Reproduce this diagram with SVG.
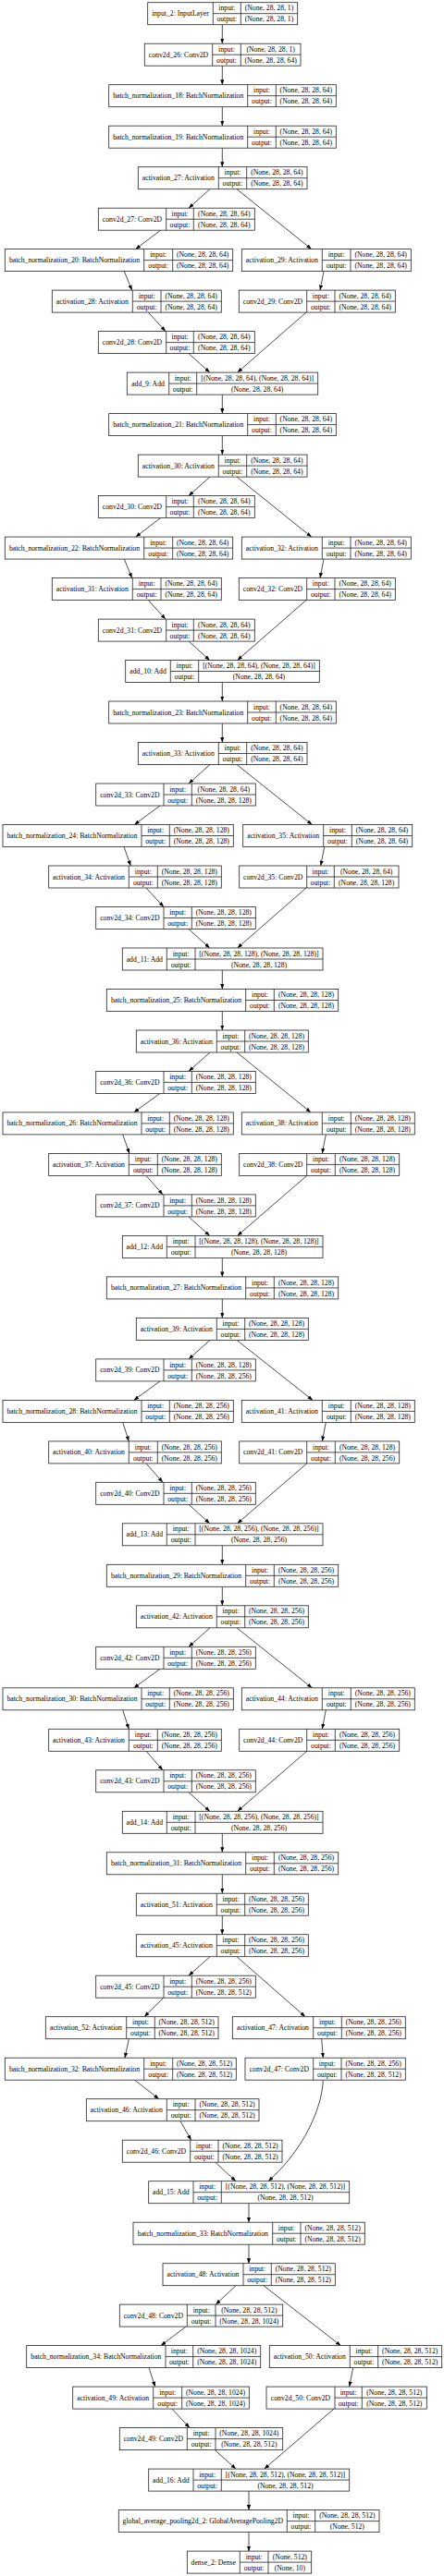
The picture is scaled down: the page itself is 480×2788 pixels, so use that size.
<svg xmlns="http://www.w3.org/2000/svg" width="480" height="2788" viewBox="0 0 480 2788">
<style>
.n rect{fill:#fff;stroke:#222;stroke-width:0.8}
.n path{fill:none;stroke:#222;stroke-width:0.8}
text{font-family:"Liberation Serif","Times New Roman",serif;font-size:7.7px;text-anchor:middle;fill:#000}
.e path{fill:none;stroke:#000;stroke-width:0.7;marker-end:url(#ah)}
</style>
<defs>
<marker id="ah" viewBox="0 0 10 10" refX="10" refY="5" markerUnits="userSpaceOnUse" markerWidth="5.5" markerHeight="4.2" orient="auto" preserveAspectRatio="none"><path d="M0 0L10 5L0 10z" fill="#000"/></marker>
</defs>
<rect width="480" height="2788" fill="#fff"/>
<g id="connectors" class="e">
<path d="M240.3 26.7V47.2"/><path d="M240.3 71.2V91.7"/><path d="M240.3 115.7V136.2"/><path d="M240.3 160.2V180.7"/>
<path d="M240.3 427.1V447.6"/><path d="M240.3 471.6V492.1"/><path d="M240.3 738.5V759"/><path d="M240.3 783V803.5"/>
<path d="M240.3 1050V1070.5"/><path d="M240.3 1094.5V1115"/><path d="M240.3 1361.4V1381.9"/><path d="M240.3 1405.9V1426.4"/>
<path d="M240.3 1672.8V1693.3"/><path d="M240.3 1717.3V1737.8"/><path d="M240.3 1984.3V2004.8"/><path d="M240.3 2028.8V2049.2"/><path d="M240.3 2073.2V2093.7"/>
<path d="M269 2384.7V2405.2"/><path d="M269 2429.2V2449.7"/><path d="M269 2696.1V2716.6"/><path d="M269 2740.6V2761.1"/>
<path d="M227 204.7L204 225.2"/><path d="M256 204.7L336.7 269.6"/><path d="M173.5 249.2L146.7 269.6"/><path d="M134.3 293.6L142.7 314.1"/><path d="M350 293.6L346 314.1"/><path d="M160.3 338.1L179 358.6"/><path d="M204 382.6L226.7 403.1"/><path d="M331 338.1L256.7 403.1"/>
<path d="M227 516.1L204 536.6"/><path d="M256 516.1L336.7 581.1"/><path d="M173.5 560.6L146.7 581.1"/><path d="M134.3 605.1L142.7 625.6"/><path d="M350 605.1L346 625.6"/><path d="M160.3 649.6L179 670.1"/><path d="M204 694.1L226.7 714.5"/><path d="M331 649.6L256.7 714.5"/>
<path d="M227 827.5L204 848"/><path d="M256 827.5L337.3 892.5"/><path d="M173 872L145.3 892.5"/><path d="M134 916.5L141.3 937"/><path d="M350.7 916.5L346.7 937"/><path d="M158 961L177 981.5"/><path d="M204 1005.5L226.7 1026"/><path d="M331 961L256.7 1026"/>
<path d="M227 1139L204 1159.4"/><path d="M256 1139L336 1203.9"/><path d="M173 1183.4L144.7 1203.9"/><path d="M132.7 1227.9L140 1248.4"/><path d="M352.3 1227.9L348.3 1248.4"/><path d="M158 1272.4L176 1292.9"/><path d="M204 1316.9L226.7 1337.4"/><path d="M331.7 1272.4L256.7 1337.4"/>
<path d="M227 1450.4L204 1470.9"/><path d="M256 1450.4L338 1515.4"/><path d="M173 1494.9L144.7 1515.4"/><path d="M132.7 1539.4L139.3 1559.9"/><path d="M352.3 1539.4L348.3 1559.9"/><path d="M158 1583.9L176 1604.3"/><path d="M204 1628.3L226.7 1648.8"/><path d="M331.7 1583.9L256.7 1648.8"/>
<path d="M227 1761.8L204 1782.3"/><path d="M256 1761.8L337.3 1826.8"/><path d="M173 1806.3L144.7 1826.8"/><path d="M132.7 1850.8L139.3 1871.3"/><path d="M352.3 1850.8L348.3 1871.3"/><path d="M158 1895.3L176 1915.8"/><path d="M204 1939.8L226.7 1960.3"/><path d="M331.7 1895.3L256.7 1960.3"/>
<path d="M227 2117.7L204 2138.2"/><path d="M256 2117.7L330 2182.7"/><path d="M176.7 2162.2L156 2182.7"/><path d="M139.3 2206.7L135 2227.2"/><path d="M347.7 2206.7L349.3 2227.2"/><path d="M145.7 2251.2L171.7 2271.7"/><path d="M195 2295.7L206.7 2316.2"/><path d="M232.7 2340.2L255 2360.7"/><path d="M349.3 2251.2C348 2285 325 2330 290 2360.7"/>
<path d="M255 2473.7L233.3 2494.1"/><path d="M285 2473.7L368.3 2538.6"/><path d="M201 2518.1L174 2538.6"/><path d="M161 2562.6L167.7 2583.1"/><path d="M381.7 2562.6L377.7 2583.1"/><path d="M186 2607.1L205 2627.6"/><path d="M232.3 2651.6L255 2672.1"/><path d="M361 2607.1L285.7 2672.1"/>
</g>
<g id="input_2" class="n" transform="translate(0,2.7)"><rect x="159.7" y="0" width="162" height="24"/><path d="M230.3 0V24M260.3 0V24M230.3 12H321.7"/><text x="195" y="14.6">input_2: InputLayer</text><text x="245.3" y="8.7">input:</text><text x="245.3" y="20.7">output:</text><text x="291" y="8.7">(None, 28, 28, 1)</text><text x="291" y="20.7">(None, 28, 28, 1)</text></g>
<g id="conv2d_26" class="n" transform="translate(0,47.2)"><rect x="156.3" y="0" width="168.7" height="24"/><path d="M229.7 0V24M260.3 0V24M229.7 12H325"/><text x="193" y="14.6">conv2d_26: Conv2D</text><text x="245" y="8.7">input:</text><text x="245" y="20.7">output:</text><text x="292.65" y="8.7">(None, 28, 28, 1)</text><text x="292.65" y="20.7">(None, 28, 28, 64)</text></g>
<g id="batch_normalization_18" class="n" transform="translate(0,91.7)"><rect x="117.7" y="0" width="245.6" height="24"/><path d="M267.7 0V24M298.3 0V24M267.7 12H363.3"/><text x="192.7" y="14.6">batch_normalization_18: BatchNormalization</text><text x="283" y="8.7">input:</text><text x="283" y="20.7">output:</text><text x="330.8" y="8.7">(None, 28, 28, 64)</text><text x="330.8" y="20.7">(None, 28, 28, 64)</text></g>
<g id="batch_normalization_19" class="n" transform="translate(0,136.2)"><rect x="117.7" y="0" width="245.6" height="24"/><path d="M267.7 0V24M298.3 0V24M267.7 12H363.3"/><text x="192.7" y="14.6">batch_normalization_19: BatchNormalization</text><text x="283" y="8.7">input:</text><text x="283" y="20.7">output:</text><text x="330.8" y="8.7">(None, 28, 28, 64)</text><text x="330.8" y="20.7">(None, 28, 28, 64)</text></g>
<g id="activation_27" class="n" transform="translate(0,180.7)"><rect x="149.3" y="0" width="182.7" height="24"/><path d="M236.3 0V24M266.7 0V24M236.3 12H332"/><text x="192.8" y="14.6">activation_27: Activation</text><text x="251.5" y="8.7">input:</text><text x="251.5" y="20.7">output:</text><text x="299.35" y="8.7">(None, 28, 28, 64)</text><text x="299.35" y="20.7">(None, 28, 28, 64)</text></g>
<g id="conv2d_27" class="n" transform="translate(0,225.2)"><rect x="106.3" y="0" width="169" height="24"/><path d="M179.7 0V24M209.3 0V24M179.7 12H275.3"/><text x="143" y="14.6">conv2d_27: Conv2D</text><text x="194.5" y="8.7">input:</text><text x="194.5" y="20.7">output:</text><text x="242.3" y="8.7">(None, 28, 28, 64)</text><text x="242.3" y="20.7">(None, 28, 28, 64)</text></g>
<g id="batch_normalization_20" class="n" transform="translate(0,269.6)"><rect x="5.3" y="0" width="246.4" height="24"/><path d="M155.7 0V24M186.7 0V24M155.7 12H251.7"/><text x="80.5" y="14.6">batch_normalization_20: BatchNormalization</text><text x="171.2" y="8.7">input:</text><text x="171.2" y="20.7">output:</text><text x="219.2" y="8.7">(None, 28, 28, 64)</text><text x="219.2" y="20.7">(None, 28, 28, 64)</text></g>
<g id="activation_29" class="n" transform="translate(0,269.6)"><rect x="261.3" y="0" width="183" height="24"/><path d="M348.3 0V24M379 0V24M348.3 12H444.3"/><text x="304.8" y="14.6">activation_29: Activation</text><text x="363.65" y="8.7">input:</text><text x="363.65" y="20.7">output:</text><text x="411.65" y="8.7">(None, 28, 28, 64)</text><text x="411.65" y="20.7">(None, 28, 28, 64)</text></g>
<g id="activation_28" class="n" transform="translate(0,314.1)"><rect x="56.3" y="0" width="183" height="24"/><path d="M143.3 0V24M174 0V24M143.3 12H239.3"/><text x="99.8" y="14.6">activation_28: Activation</text><text x="158.65" y="8.7">input:</text><text x="158.65" y="20.7">output:</text><text x="206.65" y="8.7">(None, 28, 28, 64)</text><text x="206.65" y="20.7">(None, 28, 28, 64)</text></g>
<g id="conv2d_29" class="n" transform="translate(0,314.1)"><rect x="258.3" y="0" width="169" height="24"/><path d="M331.7 0V24M362 0V24M331.7 12H427.3"/><text x="295" y="14.6">conv2d_29: Conv2D</text><text x="346.85" y="8.7">input:</text><text x="346.85" y="20.7">output:</text><text x="394.65" y="8.7">(None, 28, 28, 64)</text><text x="394.65" y="20.7">(None, 28, 28, 64)</text></g>
<g id="conv2d_28" class="n" transform="translate(0,358.6)"><rect x="106.3" y="0" width="169" height="24"/><path d="M179.7 0V24M209.3 0V24M179.7 12H275.3"/><text x="143" y="14.6">conv2d_28: Conv2D</text><text x="194.5" y="8.7">input:</text><text x="194.5" y="20.7">output:</text><text x="242.3" y="8.7">(None, 28, 28, 64)</text><text x="242.3" y="20.7">(None, 28, 28, 64)</text></g>
<g id="add_9" class="n" transform="translate(0,403.1)"><rect x="137.3" y="0" width="206.4" height="24"/><path d="M182.7 0V24M212.7 0V24M182.7 12H343.7"/><text x="160" y="14.6">add_9: Add</text><text x="197.7" y="8.7">input:</text><text x="197.7" y="20.7">output:</text><text x="278.2" y="8.7">[(None, 28, 28, 64), (None, 28, 28, 64)]</text><text x="278.2" y="20.7">(None, 28, 28, 64)</text></g>
<g id="batch_normalization_21" class="n" transform="translate(0,447.6)"><rect x="117.7" y="0" width="245.6" height="24"/><path d="M267.7 0V24M298.3 0V24M267.7 12H363.3"/><text x="192.7" y="14.6">batch_normalization_21: BatchNormalization</text><text x="283" y="8.7">input:</text><text x="283" y="20.7">output:</text><text x="330.8" y="8.7">(None, 28, 28, 64)</text><text x="330.8" y="20.7">(None, 28, 28, 64)</text></g>
<g id="activation_30" class="n" transform="translate(0,492.1)"><rect x="149.3" y="0" width="182.7" height="24"/><path d="M236.3 0V24M266.7 0V24M236.3 12H332"/><text x="192.8" y="14.6">activation_30: Activation</text><text x="251.5" y="8.7">input:</text><text x="251.5" y="20.7">output:</text><text x="299.35" y="8.7">(None, 28, 28, 64)</text><text x="299.35" y="20.7">(None, 28, 28, 64)</text></g>
<g id="conv2d_30" class="n" transform="translate(0,536.6)"><rect x="106.3" y="0" width="169" height="24"/><path d="M179.7 0V24M209.3 0V24M179.7 12H275.3"/><text x="143" y="14.6">conv2d_30: Conv2D</text><text x="194.5" y="8.7">input:</text><text x="194.5" y="20.7">output:</text><text x="242.3" y="8.7">(None, 28, 28, 64)</text><text x="242.3" y="20.7">(None, 28, 28, 64)</text></g>
<g id="batch_normalization_22" class="n" transform="translate(0,581.1)"><rect x="5.3" y="0" width="246.4" height="24"/><path d="M155.7 0V24M186.7 0V24M155.7 12H251.7"/><text x="80.5" y="14.6">batch_normalization_22: BatchNormalization</text><text x="171.2" y="8.7">input:</text><text x="171.2" y="20.7">output:</text><text x="219.2" y="8.7">(None, 28, 28, 64)</text><text x="219.2" y="20.7">(None, 28, 28, 64)</text></g>
<g id="activation_32" class="n" transform="translate(0,581.1)"><rect x="261.3" y="0" width="183" height="24"/><path d="M348.3 0V24M379 0V24M348.3 12H444.3"/><text x="304.8" y="14.6">activation_32: Activation</text><text x="363.65" y="8.7">input:</text><text x="363.65" y="20.7">output:</text><text x="411.65" y="8.7">(None, 28, 28, 64)</text><text x="411.65" y="20.7">(None, 28, 28, 64)</text></g>
<g id="activation_31" class="n" transform="translate(0,625.6)"><rect x="56.3" y="0" width="183" height="24"/><path d="M143.3 0V24M174 0V24M143.3 12H239.3"/><text x="99.8" y="14.6">activation_31: Activation</text><text x="158.65" y="8.7">input:</text><text x="158.65" y="20.7">output:</text><text x="206.65" y="8.7">(None, 28, 28, 64)</text><text x="206.65" y="20.7">(None, 28, 28, 64)</text></g>
<g id="conv2d_32" class="n" transform="translate(0,625.6)"><rect x="258.3" y="0" width="169" height="24"/><path d="M331.7 0V24M362 0V24M331.7 12H427.3"/><text x="295" y="14.6">conv2d_32: Conv2D</text><text x="346.85" y="8.7">input:</text><text x="346.85" y="20.7">output:</text><text x="394.65" y="8.7">(None, 28, 28, 64)</text><text x="394.65" y="20.7">(None, 28, 28, 64)</text></g>
<g id="conv2d_31" class="n" transform="translate(0,670.1)"><rect x="106.3" y="0" width="169" height="24"/><path d="M179.7 0V24M209.3 0V24M179.7 12H275.3"/><text x="143" y="14.6">conv2d_31: Conv2D</text><text x="194.5" y="8.7">input:</text><text x="194.5" y="20.7">output:</text><text x="242.3" y="8.7">(None, 28, 28, 64)</text><text x="242.3" y="20.7">(None, 28, 28, 64)</text></g>
<g id="add_10" class="n" transform="translate(0,714.5)"><rect x="135.7" y="0" width="209.6" height="24"/><path d="M184.3 0V24M214.7 0V24M184.3 12H345.3"/><text x="160" y="14.6">add_10: Add</text><text x="199.5" y="8.7">input:</text><text x="199.5" y="20.7">output:</text><text x="280" y="8.7">[(None, 28, 28, 64), (None, 28, 28, 64)]</text><text x="280" y="20.7">(None, 28, 28, 64)</text></g>
<g id="batch_normalization_23" class="n" transform="translate(0,759)"><rect x="117.7" y="0" width="245.6" height="24"/><path d="M267.7 0V24M298.3 0V24M267.7 12H363.3"/><text x="192.7" y="14.6">batch_normalization_23: BatchNormalization</text><text x="283" y="8.7">input:</text><text x="283" y="20.7">output:</text><text x="330.8" y="8.7">(None, 28, 28, 64)</text><text x="330.8" y="20.7">(None, 28, 28, 64)</text></g>
<g id="activation_33" class="n" transform="translate(0,803.5)"><rect x="149.3" y="0" width="182.7" height="24"/><path d="M236.3 0V24M266.7 0V24M236.3 12H332"/><text x="192.8" y="14.6">activation_33: Activation</text><text x="251.5" y="8.7">input:</text><text x="251.5" y="20.7">output:</text><text x="299.35" y="8.7">(None, 28, 28, 64)</text><text x="299.35" y="20.7">(None, 28, 28, 64)</text></g>
<g id="conv2d_33" class="n" transform="translate(0,848)"><rect x="103.7" y="0" width="172.6" height="24"/><path d="M177 0V24M207.3 0V24M177 12H276.3"/><text x="140.35" y="14.6">conv2d_33: Conv2D</text><text x="192.15" y="8.7">input:</text><text x="192.15" y="20.7">output:</text><text x="241.8" y="8.7">(None, 28, 28, 64)</text><text x="241.8" y="20.7">(None, 28, 28, 128)</text></g>
<g id="batch_normalization_24" class="n" transform="translate(0,892.5)"><rect x="3" y="0" width="249.3" height="24"/><path d="M153 0V24M183.3 0V24M153 12H252.3"/><text x="78" y="14.6">batch_normalization_24: BatchNormalization</text><text x="168.15" y="8.7">input:</text><text x="168.15" y="20.7">output:</text><text x="217.8" y="8.7">(None, 28, 28, 128)</text><text x="217.8" y="20.7">(None, 28, 28, 128)</text></g>
<g id="activation_35" class="n" transform="translate(0,892.5)"><rect x="262.7" y="0" width="183" height="24"/><path d="M349.7 0V24M380.3 0V24M349.7 12H445.7"/><text x="306.2" y="14.6">activation_35: Activation</text><text x="365" y="8.7">input:</text><text x="365" y="20.7">output:</text><text x="413" y="8.7">(None, 28, 28, 64)</text><text x="413" y="20.7">(None, 28, 28, 64)</text></g>
<g id="activation_34" class="n" transform="translate(0,937)"><rect x="52.7" y="0" width="186.6" height="24"/><path d="M139.3 0V24M170.3 0V24M139.3 12H239.3"/><text x="96" y="14.6">activation_34: Activation</text><text x="154.8" y="8.7">input:</text><text x="154.8" y="20.7">output:</text><text x="204.8" y="8.7">(None, 28, 28, 128)</text><text x="204.8" y="20.7">(None, 28, 28, 128)</text></g>
<g id="conv2d_35" class="n" transform="translate(0,937)"><rect x="258.7" y="0" width="172.3" height="24"/><path d="M331.7 0V24M361.3 0V24M331.7 12H431"/><text x="295.2" y="14.6">conv2d_35: Conv2D</text><text x="346.5" y="8.7">input:</text><text x="346.5" y="20.7">output:</text><text x="396.15" y="8.7">(None, 28, 28, 64)</text><text x="396.15" y="20.7">(None, 28, 28, 128)</text></g>
<g id="conv2d_34" class="n" transform="translate(0,981.5)"><rect x="103.7" y="0" width="172.6" height="24"/><path d="M177 0V24M207.3 0V24M177 12H276.3"/><text x="140.35" y="14.6">conv2d_34: Conv2D</text><text x="192.15" y="8.7">input:</text><text x="192.15" y="20.7">output:</text><text x="241.8" y="8.7">(None, 28, 28, 128)</text><text x="241.8" y="20.7">(None, 28, 28, 128)</text></g>
<g id="add_11" class="n" transform="translate(0,1026)"><rect x="132.3" y="0" width="216.7" height="24"/><path d="M180.3 0V24M211 0V24M180.3 12H349"/><text x="156.3" y="14.6">add_11: Add</text><text x="195.65" y="8.7">input:</text><text x="195.65" y="20.7">output:</text><text x="280" y="8.7">[(None, 28, 28, 128), (None, 28, 28, 128)]</text><text x="280" y="20.7">(None, 28, 28, 128)</text></g>
<g id="batch_normalization_25" class="n" transform="translate(0,1070.5)"><rect x="115.3" y="0" width="250.4" height="24"/><path d="M265.7 0V24M296.3 0V24M265.7 12H365.7"/><text x="190.5" y="14.6">batch_normalization_25: BatchNormalization</text><text x="281" y="8.7">input:</text><text x="281" y="20.7">output:</text><text x="331" y="8.7">(None, 28, 28, 128)</text><text x="331" y="20.7">(None, 28, 28, 128)</text></g>
<g id="activation_36" class="n" transform="translate(0,1115)"><rect x="147.3" y="0" width="186" height="24"/><path d="M234.3 0V24M264.7 0V24M234.3 12H333.3"/><text x="190.8" y="14.6">activation_36: Activation</text><text x="249.5" y="8.7">input:</text><text x="249.5" y="20.7">output:</text><text x="299" y="8.7">(None, 28, 28, 128)</text><text x="299" y="20.7">(None, 28, 28, 128)</text></g>
<g id="conv2d_36" class="n" transform="translate(0,1159.4)"><rect x="103.7" y="0" width="172.6" height="24"/><path d="M177 0V24M207.3 0V24M177 12H276.3"/><text x="140.35" y="14.6">conv2d_36: Conv2D</text><text x="192.15" y="8.7">input:</text><text x="192.15" y="20.7">output:</text><text x="241.8" y="8.7">(None, 28, 28, 128)</text><text x="241.8" y="20.7">(None, 28, 28, 128)</text></g>
<g id="batch_normalization_26" class="n" transform="translate(0,1203.9)"><rect x="3" y="0" width="249.3" height="24"/><path d="M153 0V24M183.3 0V24M153 12H252.3"/><text x="78" y="14.6">batch_normalization_26: BatchNormalization</text><text x="168.15" y="8.7">input:</text><text x="168.15" y="20.7">output:</text><text x="217.8" y="8.7">(None, 28, 28, 128)</text><text x="217.8" y="20.7">(None, 28, 28, 128)</text></g>
<g id="activation_38" class="n" transform="translate(0,1203.9)"><rect x="261.3" y="0" width="187" height="24"/><path d="M348.3 0V24M379.3 0V24M348.3 12H448.3"/><text x="304.8" y="14.6">activation_38: Activation</text><text x="363.8" y="8.7">input:</text><text x="363.8" y="20.7">output:</text><text x="413.8" y="8.7">(None, 28, 28, 128)</text><text x="413.8" y="20.7">(None, 28, 28, 128)</text></g>
<g id="activation_37" class="n" transform="translate(0,1248.4)"><rect x="52.7" y="0" width="186.6" height="24"/><path d="M139.3 0V24M170.3 0V24M139.3 12H239.3"/><text x="96" y="14.6">activation_37: Activation</text><text x="154.8" y="8.7">input:</text><text x="154.8" y="20.7">output:</text><text x="204.8" y="8.7">(None, 28, 28, 128)</text><text x="204.8" y="20.7">(None, 28, 28, 128)</text></g>
<g id="conv2d_38" class="n" transform="translate(0,1248.4)"><rect x="258.7" y="0" width="173" height="24"/><path d="M331.7 0V24M362.3 0V24M331.7 12H431.7"/><text x="295.2" y="14.6">conv2d_38: Conv2D</text><text x="347" y="8.7">input:</text><text x="347" y="20.7">output:</text><text x="397" y="8.7">(None, 28, 28, 128)</text><text x="397" y="20.7">(None, 28, 28, 128)</text></g>
<g id="conv2d_37" class="n" transform="translate(0,1292.9)"><rect x="103.7" y="0" width="172.6" height="24"/><path d="M177 0V24M207.3 0V24M177 12H276.3"/><text x="140.35" y="14.6">conv2d_37: Conv2D</text><text x="192.15" y="8.7">input:</text><text x="192.15" y="20.7">output:</text><text x="241.8" y="8.7">(None, 28, 28, 128)</text><text x="241.8" y="20.7">(None, 28, 28, 128)</text></g>
<g id="add_12" class="n" transform="translate(0,1337.4)"><rect x="132.3" y="0" width="216.7" height="24"/><path d="M180.3 0V24M211 0V24M180.3 12H349"/><text x="156.3" y="14.6">add_12: Add</text><text x="195.65" y="8.7">input:</text><text x="195.65" y="20.7">output:</text><text x="280" y="8.7">[(None, 28, 28, 128), (None, 28, 28, 128)]</text><text x="280" y="20.7">(None, 28, 28, 128)</text></g>
<g id="batch_normalization_27" class="n" transform="translate(0,1381.9)"><rect x="115.3" y="0" width="250.4" height="24"/><path d="M265.7 0V24M296.3 0V24M265.7 12H365.7"/><text x="190.5" y="14.6">batch_normalization_27: BatchNormalization</text><text x="281" y="8.7">input:</text><text x="281" y="20.7">output:</text><text x="331" y="8.7">(None, 28, 28, 128)</text><text x="331" y="20.7">(None, 28, 28, 128)</text></g>
<g id="activation_39" class="n" transform="translate(0,1426.4)"><rect x="147.3" y="0" width="186" height="24"/><path d="M234.3 0V24M264.7 0V24M234.3 12H333.3"/><text x="190.8" y="14.6">activation_39: Activation</text><text x="249.5" y="8.7">input:</text><text x="249.5" y="20.7">output:</text><text x="299" y="8.7">(None, 28, 28, 128)</text><text x="299" y="20.7">(None, 28, 28, 128)</text></g>
<g id="conv2d_39" class="n" transform="translate(0,1470.9)"><rect x="103.7" y="0" width="172.6" height="24"/><path d="M177 0V24M207.3 0V24M177 12H276.3"/><text x="140.35" y="14.6">conv2d_39: Conv2D</text><text x="192.15" y="8.7">input:</text><text x="192.15" y="20.7">output:</text><text x="241.8" y="8.7">(None, 28, 28, 128)</text><text x="241.8" y="20.7">(None, 28, 28, 256)</text></g>
<g id="batch_normalization_28" class="n" transform="translate(0,1515.4)"><rect x="3" y="0" width="249.3" height="24"/><path d="M153 0V24M183.3 0V24M153 12H252.3"/><text x="78" y="14.6">batch_normalization_28: BatchNormalization</text><text x="168.15" y="8.7">input:</text><text x="168.15" y="20.7">output:</text><text x="217.8" y="8.7">(None, 28, 28, 256)</text><text x="217.8" y="20.7">(None, 28, 28, 256)</text></g>
<g id="activation_41" class="n" transform="translate(0,1515.4)"><rect x="261.3" y="0" width="187" height="24"/><path d="M348.3 0V24M379.3 0V24M348.3 12H448.3"/><text x="304.8" y="14.6">activation_41: Activation</text><text x="363.8" y="8.7">input:</text><text x="363.8" y="20.7">output:</text><text x="413.8" y="8.7">(None, 28, 28, 128)</text><text x="413.8" y="20.7">(None, 28, 28, 128)</text></g>
<g id="activation_40" class="n" transform="translate(0,1559.9)"><rect x="52.7" y="0" width="186.6" height="24"/><path d="M139.3 0V24M170.3 0V24M139.3 12H239.3"/><text x="96" y="14.6">activation_40: Activation</text><text x="154.8" y="8.7">input:</text><text x="154.8" y="20.7">output:</text><text x="204.8" y="8.7">(None, 28, 28, 256)</text><text x="204.8" y="20.7">(None, 28, 28, 256)</text></g>
<g id="conv2d_41" class="n" transform="translate(0,1559.9)"><rect x="258.7" y="0" width="173" height="24"/><path d="M331.7 0V24M362.3 0V24M331.7 12H431.7"/><text x="295.2" y="14.6">conv2d_41: Conv2D</text><text x="347" y="8.7">input:</text><text x="347" y="20.7">output:</text><text x="397" y="8.7">(None, 28, 28, 128)</text><text x="397" y="20.7">(None, 28, 28, 256)</text></g>
<g id="conv2d_40" class="n" transform="translate(0,1604.3)"><rect x="103.7" y="0" width="172.6" height="24"/><path d="M177 0V24M207.3 0V24M177 12H276.3"/><text x="140.35" y="14.6">conv2d_40: Conv2D</text><text x="192.15" y="8.7">input:</text><text x="192.15" y="20.7">output:</text><text x="241.8" y="8.7">(None, 28, 28, 256)</text><text x="241.8" y="20.7">(None, 28, 28, 256)</text></g>
<g id="add_13" class="n" transform="translate(0,1648.8)"><rect x="132.3" y="0" width="216.7" height="24"/><path d="M180.3 0V24M211 0V24M180.3 12H349"/><text x="156.3" y="14.6">add_13: Add</text><text x="195.65" y="8.7">input:</text><text x="195.65" y="20.7">output:</text><text x="280" y="8.7">[(None, 28, 28, 256), (None, 28, 28, 256)]</text><text x="280" y="20.7">(None, 28, 28, 256)</text></g>
<g id="batch_normalization_29" class="n" transform="translate(0,1693.3)"><rect x="115.3" y="0" width="250.4" height="24"/><path d="M265.7 0V24M296.3 0V24M265.7 12H365.7"/><text x="190.5" y="14.6">batch_normalization_29: BatchNormalization</text><text x="281" y="8.7">input:</text><text x="281" y="20.7">output:</text><text x="331" y="8.7">(None, 28, 28, 256)</text><text x="331" y="20.7">(None, 28, 28, 256)</text></g>
<g id="activation_42" class="n" transform="translate(0,1737.8)"><rect x="147.3" y="0" width="186" height="24"/><path d="M234.3 0V24M264.7 0V24M234.3 12H333.3"/><text x="190.8" y="14.6">activation_42: Activation</text><text x="249.5" y="8.7">input:</text><text x="249.5" y="20.7">output:</text><text x="299" y="8.7">(None, 28, 28, 256)</text><text x="299" y="20.7">(None, 28, 28, 256)</text></g>
<g id="conv2d_42" class="n" transform="translate(0,1782.3)"><rect x="103.7" y="0" width="172.6" height="24"/><path d="M177 0V24M207.3 0V24M177 12H276.3"/><text x="140.35" y="14.6">conv2d_42: Conv2D</text><text x="192.15" y="8.7">input:</text><text x="192.15" y="20.7">output:</text><text x="241.8" y="8.7">(None, 28, 28, 256)</text><text x="241.8" y="20.7">(None, 28, 28, 256)</text></g>
<g id="batch_normalization_30" class="n" transform="translate(0,1826.8)"><rect x="3" y="0" width="249.3" height="24"/><path d="M153 0V24M183.3 0V24M153 12H252.3"/><text x="78" y="14.6">batch_normalization_30: BatchNormalization</text><text x="168.15" y="8.7">input:</text><text x="168.15" y="20.7">output:</text><text x="217.8" y="8.7">(None, 28, 28, 256)</text><text x="217.8" y="20.7">(None, 28, 28, 256)</text></g>
<g id="activation_44" class="n" transform="translate(0,1826.8)"><rect x="261.3" y="0" width="187" height="24"/><path d="M348.3 0V24M379.3 0V24M348.3 12H448.3"/><text x="304.8" y="14.6">activation_44: Activation</text><text x="363.8" y="8.7">input:</text><text x="363.8" y="20.7">output:</text><text x="413.8" y="8.7">(None, 28, 28, 256)</text><text x="413.8" y="20.7">(None, 28, 28, 256)</text></g>
<g id="activation_43" class="n" transform="translate(0,1871.3)"><rect x="52.7" y="0" width="186.6" height="24"/><path d="M139.3 0V24M170.3 0V24M139.3 12H239.3"/><text x="96" y="14.6">activation_43: Activation</text><text x="154.8" y="8.7">input:</text><text x="154.8" y="20.7">output:</text><text x="204.8" y="8.7">(None, 28, 28, 256)</text><text x="204.8" y="20.7">(None, 28, 28, 256)</text></g>
<g id="conv2d_44" class="n" transform="translate(0,1871.3)"><rect x="258.7" y="0" width="173" height="24"/><path d="M331.7 0V24M362.3 0V24M331.7 12H431.7"/><text x="295.2" y="14.6">conv2d_44: Conv2D</text><text x="347" y="8.7">input:</text><text x="347" y="20.7">output:</text><text x="397" y="8.7">(None, 28, 28, 256)</text><text x="397" y="20.7">(None, 28, 28, 256)</text></g>
<g id="conv2d_43" class="n" transform="translate(0,1915.8)"><rect x="103.7" y="0" width="172.6" height="24"/><path d="M177 0V24M207.3 0V24M177 12H276.3"/><text x="140.35" y="14.6">conv2d_43: Conv2D</text><text x="192.15" y="8.7">input:</text><text x="192.15" y="20.7">output:</text><text x="241.8" y="8.7">(None, 28, 28, 256)</text><text x="241.8" y="20.7">(None, 28, 28, 256)</text></g>
<g id="add_14" class="n" transform="translate(0,1960.3)"><rect x="132.3" y="0" width="216.7" height="24"/><path d="M180.3 0V24M211 0V24M180.3 12H349"/><text x="156.3" y="14.6">add_14: Add</text><text x="195.65" y="8.7">input:</text><text x="195.65" y="20.7">output:</text><text x="280" y="8.7">[(None, 28, 28, 256), (None, 28, 28, 256)]</text><text x="280" y="20.7">(None, 28, 28, 256)</text></g>
<g id="batch_normalization_31" class="n" transform="translate(0,2004.8)"><rect x="115.3" y="0" width="250.4" height="24"/><path d="M265.7 0V24M296.3 0V24M265.7 12H365.7"/><text x="190.5" y="14.6">batch_normalization_31: BatchNormalization</text><text x="281" y="8.7">input:</text><text x="281" y="20.7">output:</text><text x="331" y="8.7">(None, 28, 28, 256)</text><text x="331" y="20.7">(None, 28, 28, 256)</text></g>
<g id="activation_51" class="n" transform="translate(0,2049.2)"><rect x="147.3" y="0" width="186" height="24"/><path d="M234.3 0V24M264.7 0V24M234.3 12H333.3"/><text x="190.8" y="14.6">activation_51: Activation</text><text x="249.5" y="8.7">input:</text><text x="249.5" y="20.7">output:</text><text x="299" y="8.7">(None, 28, 28, 256)</text><text x="299" y="20.7">(None, 28, 28, 256)</text></g>
<g id="activation_45" class="n" transform="translate(0,2093.7)"><rect x="147.3" y="0" width="186" height="24"/><path d="M234.3 0V24M264.7 0V24M234.3 12H333.3"/><text x="190.8" y="14.6">activation_45: Activation</text><text x="249.5" y="8.7">input:</text><text x="249.5" y="20.7">output:</text><text x="299" y="8.7">(None, 28, 28, 256)</text><text x="299" y="20.7">(None, 28, 28, 256)</text></g>
<g id="conv2d_45" class="n" transform="translate(0,2138.2)"><rect x="103.7" y="0" width="172.6" height="24"/><path d="M177 0V24M207.3 0V24M177 12H276.3"/><text x="140.35" y="14.6">conv2d_45: Conv2D</text><text x="192.15" y="8.7">input:</text><text x="192.15" y="20.7">output:</text><text x="241.8" y="8.7">(None, 28, 28, 256)</text><text x="241.8" y="20.7">(None, 28, 28, 512)</text></g>
<g id="activation_52" class="n" transform="translate(0,2182.7)"><rect x="49.3" y="0" width="186.7" height="24"/><path d="M136.7 0V24M167.3 0V24M136.7 12H236"/><text x="93" y="14.6">activation_52: Activation</text><text x="152" y="8.7">input:</text><text x="152" y="20.7">output:</text><text x="201.65" y="8.7">(None, 28, 28, 512)</text><text x="201.65" y="20.7">(None, 28, 28, 512)</text></g>
<g id="activation_47" class="n" transform="translate(0,2182.7)"><rect x="251.3" y="0" width="187" height="24"/><path d="M338.7 0V24M369.3 0V24M338.7 12H438.3"/><text x="295" y="14.6">activation_47: Activation</text><text x="354" y="8.7">input:</text><text x="354" y="20.7">output:</text><text x="403.8" y="8.7">(None, 28, 28, 256)</text><text x="403.8" y="20.7">(None, 28, 28, 256)</text></g>
<g id="batch_normalization_32" class="n" transform="translate(0,2227.2)"><rect x="5.3" y="0" width="250" height="24"/><path d="M155.7 0V24M186.7 0V24M155.7 12H255.3"/><text x="80.5" y="14.6">batch_normalization_32: BatchNormalization</text><text x="171.2" y="8.7">input:</text><text x="171.2" y="20.7">output:</text><text x="221" y="8.7">(None, 28, 28, 512)</text><text x="221" y="20.7">(None, 28, 28, 512)</text></g>
<g id="conv2d_47" class="n" transform="translate(0,2227.2)"><rect x="265" y="0" width="173.3" height="24"/><path d="M338.7 0V24M369 0V24M338.7 12H438.3"/><text x="301.85" y="14.6">conv2d_47: Conv2D</text><text x="353.85" y="8.7">input:</text><text x="353.85" y="20.7">output:</text><text x="403.65" y="8.7">(None, 28, 28, 256)</text><text x="403.65" y="20.7">(None, 28, 28, 512)</text></g>
<g id="activation_46" class="n" transform="translate(0,2271.7)"><rect x="93.3" y="0" width="186.7" height="24"/><path d="M180.3 0V24M211 0V24M180.3 12H280"/><text x="136.8" y="14.6">activation_46: Activation</text><text x="195.65" y="8.7">input:</text><text x="195.65" y="20.7">output:</text><text x="245.5" y="8.7">(None, 28, 28, 512)</text><text x="245.5" y="20.7">(None, 28, 28, 512)</text></g>
<g id="conv2d_46" class="n" transform="translate(0,2316.2)"><rect x="132.3" y="0" width="172.7" height="24"/><path d="M205.7 0V24M236 0V24M205.7 12H305"/><text x="169" y="14.6">conv2d_46: Conv2D</text><text x="220.85" y="8.7">input:</text><text x="220.85" y="20.7">output:</text><text x="270.5" y="8.7">(None, 28, 28, 512)</text><text x="270.5" y="20.7">(None, 28, 28, 512)</text></g>
<g id="add_15" class="n" transform="translate(0,2360.7)"><rect x="160.7" y="0" width="217" height="24"/><path d="M209 0V24M239.3 0V24M209 12H377.7"/><text x="184.85" y="14.6">add_15: Add</text><text x="224.15" y="8.7">input:</text><text x="224.15" y="20.7">output:</text><text x="308.5" y="8.7">[(None, 28, 28, 512), (None, 28, 28, 512)]</text><text x="308.5" y="20.7">(None, 28, 28, 512)</text></g>
<g id="batch_normalization_33" class="n" transform="translate(0,2405.2)"><rect x="144" y="0" width="250.3" height="24"/><path d="M294.7 0V24M325 0V24M294.7 12H394.3"/><text x="219.35" y="14.6">batch_normalization_33: BatchNormalization</text><text x="309.85" y="8.7">input:</text><text x="309.85" y="20.7">output:</text><text x="359.65" y="8.7">(None, 28, 28, 512)</text><text x="359.65" y="20.7">(None, 28, 28, 512)</text></g>
<g id="activation_48" class="n" transform="translate(0,2449.7)"><rect x="176" y="0" width="186.3" height="24"/><path d="M263 0V24M293.3 0V24M263 12H362.3"/><text x="219.5" y="14.6">activation_48: Activation</text><text x="278.15" y="8.7">input:</text><text x="278.15" y="20.7">output:</text><text x="327.8" y="8.7">(None, 28, 28, 512)</text><text x="327.8" y="20.7">(None, 28, 28, 512)</text></g>
<g id="conv2d_48" class="n" transform="translate(0,2494.1)"><rect x="129.3" y="0" width="176.4" height="24"/><path d="M202.3 0V24M233 0V24M202.3 12H305.7"/><text x="165.8" y="14.6">conv2d_48: Conv2D</text><text x="217.65" y="8.7">input:</text><text x="217.65" y="20.7">output:</text><text x="269.35" y="8.7">(None, 28, 28, 512)</text><text x="269.35" y="20.7">(None, 28, 28, 1024)</text></g>
<g id="batch_normalization_34" class="n" transform="translate(0,2538.6)"><rect x="28.7" y="0" width="253" height="24"/><path d="M179 0V24M208.7 0V24M179 12H281.7"/><text x="103.85" y="14.6">batch_normalization_34: BatchNormalization</text><text x="193.85" y="8.7">input:</text><text x="193.85" y="20.7">output:</text><text x="245.2" y="8.7">(None, 28, 28, 1024)</text><text x="245.2" y="20.7">(None, 28, 28, 1024)</text></g>
<g id="activation_50" class="n" transform="translate(0,2538.6)"><rect x="291.3" y="0" width="186.4" height="24"/><path d="M378.3 0V24M408.7 0V24M378.3 12H477.7"/><text x="334.8" y="14.6">activation_50: Activation</text><text x="393.5" y="8.7">input:</text><text x="393.5" y="20.7">output:</text><text x="443.2" y="8.7">(None, 28, 28, 512)</text><text x="443.2" y="20.7">(None, 28, 28, 512)</text></g>
<g id="activation_49" class="n" transform="translate(0,2583.1)"><rect x="78.7" y="0" width="190.6" height="24"/><path d="M165.7 0V24M196.7 0V24M165.7 12H269.3"/><text x="122.2" y="14.6">activation_49: Activation</text><text x="181.2" y="8.7">input:</text><text x="181.2" y="20.7">output:</text><text x="233" y="8.7">(None, 28, 28, 1024)</text><text x="233" y="20.7">(None, 28, 28, 1024)</text></g>
<g id="conv2d_50" class="n" transform="translate(0,2583.1)"><rect x="288" y="0" width="173.3" height="24"/><path d="M362 0V24M391.3 0V24M362 12H461.3"/><text x="325" y="14.6">conv2d_50: Conv2D</text><text x="376.65" y="8.7">input:</text><text x="376.65" y="20.7">output:</text><text x="426.3" y="8.7">(None, 28, 28, 512)</text><text x="426.3" y="20.7">(None, 28, 28, 512)</text></g>
<g id="conv2d_49" class="n" transform="translate(0,2627.6)"><rect x="129.3" y="0" width="176.4" height="24"/><path d="M202.3 0V24M233 0V24M202.3 12H305.7"/><text x="165.8" y="14.6">conv2d_49: Conv2D</text><text x="217.65" y="8.7">input:</text><text x="217.65" y="20.7">output:</text><text x="269.35" y="8.7">(None, 28, 28, 1024)</text><text x="269.35" y="20.7">(None, 28, 28, 512)</text></g>
<g id="add_16" class="n" transform="translate(0,2672.1)"><rect x="160.7" y="0" width="217" height="24"/><path d="M209 0V24M239.3 0V24M209 12H377.7"/><text x="184.85" y="14.6">add_16: Add</text><text x="224.15" y="8.7">input:</text><text x="224.15" y="20.7">output:</text><text x="308.5" y="8.7">[(None, 28, 28, 512), (None, 28, 28, 512)]</text><text x="308.5" y="20.7">(None, 28, 28, 512)</text></g>
<g id="global_average_pooling2d_2" class="n" transform="translate(0,2716.6)"><rect x="128.3" y="0" width="281.7" height="24"/><path d="M310.3 0V24M340.7 0V24M310.3 12H410"/><text x="219.3" y="14.6">global_average_pooling2d_2: GlobalAveragePooling2D</text><text x="325.5" y="8.7">input:</text><text x="325.5" y="20.7">output:</text><text x="375.35" y="8.7">(None, 28, 28, 512)</text><text x="375.35" y="20.7">(None, 512)</text></g>
<g id="dense_2" class="n" transform="translate(0,2761.1)"><rect x="202.3" y="0" width="134.4" height="24"/><path d="M259.3 0V24M290 0V24M259.3 12H336.7"/><text x="230.8" y="14.6">dense_2: Dense</text><text x="274.65" y="8.7">input:</text><text x="274.65" y="20.7">output:</text><text x="313.35" y="8.7">(None, 512)</text><text x="313.35" y="20.7">(None, 10)</text></g>
</svg>
